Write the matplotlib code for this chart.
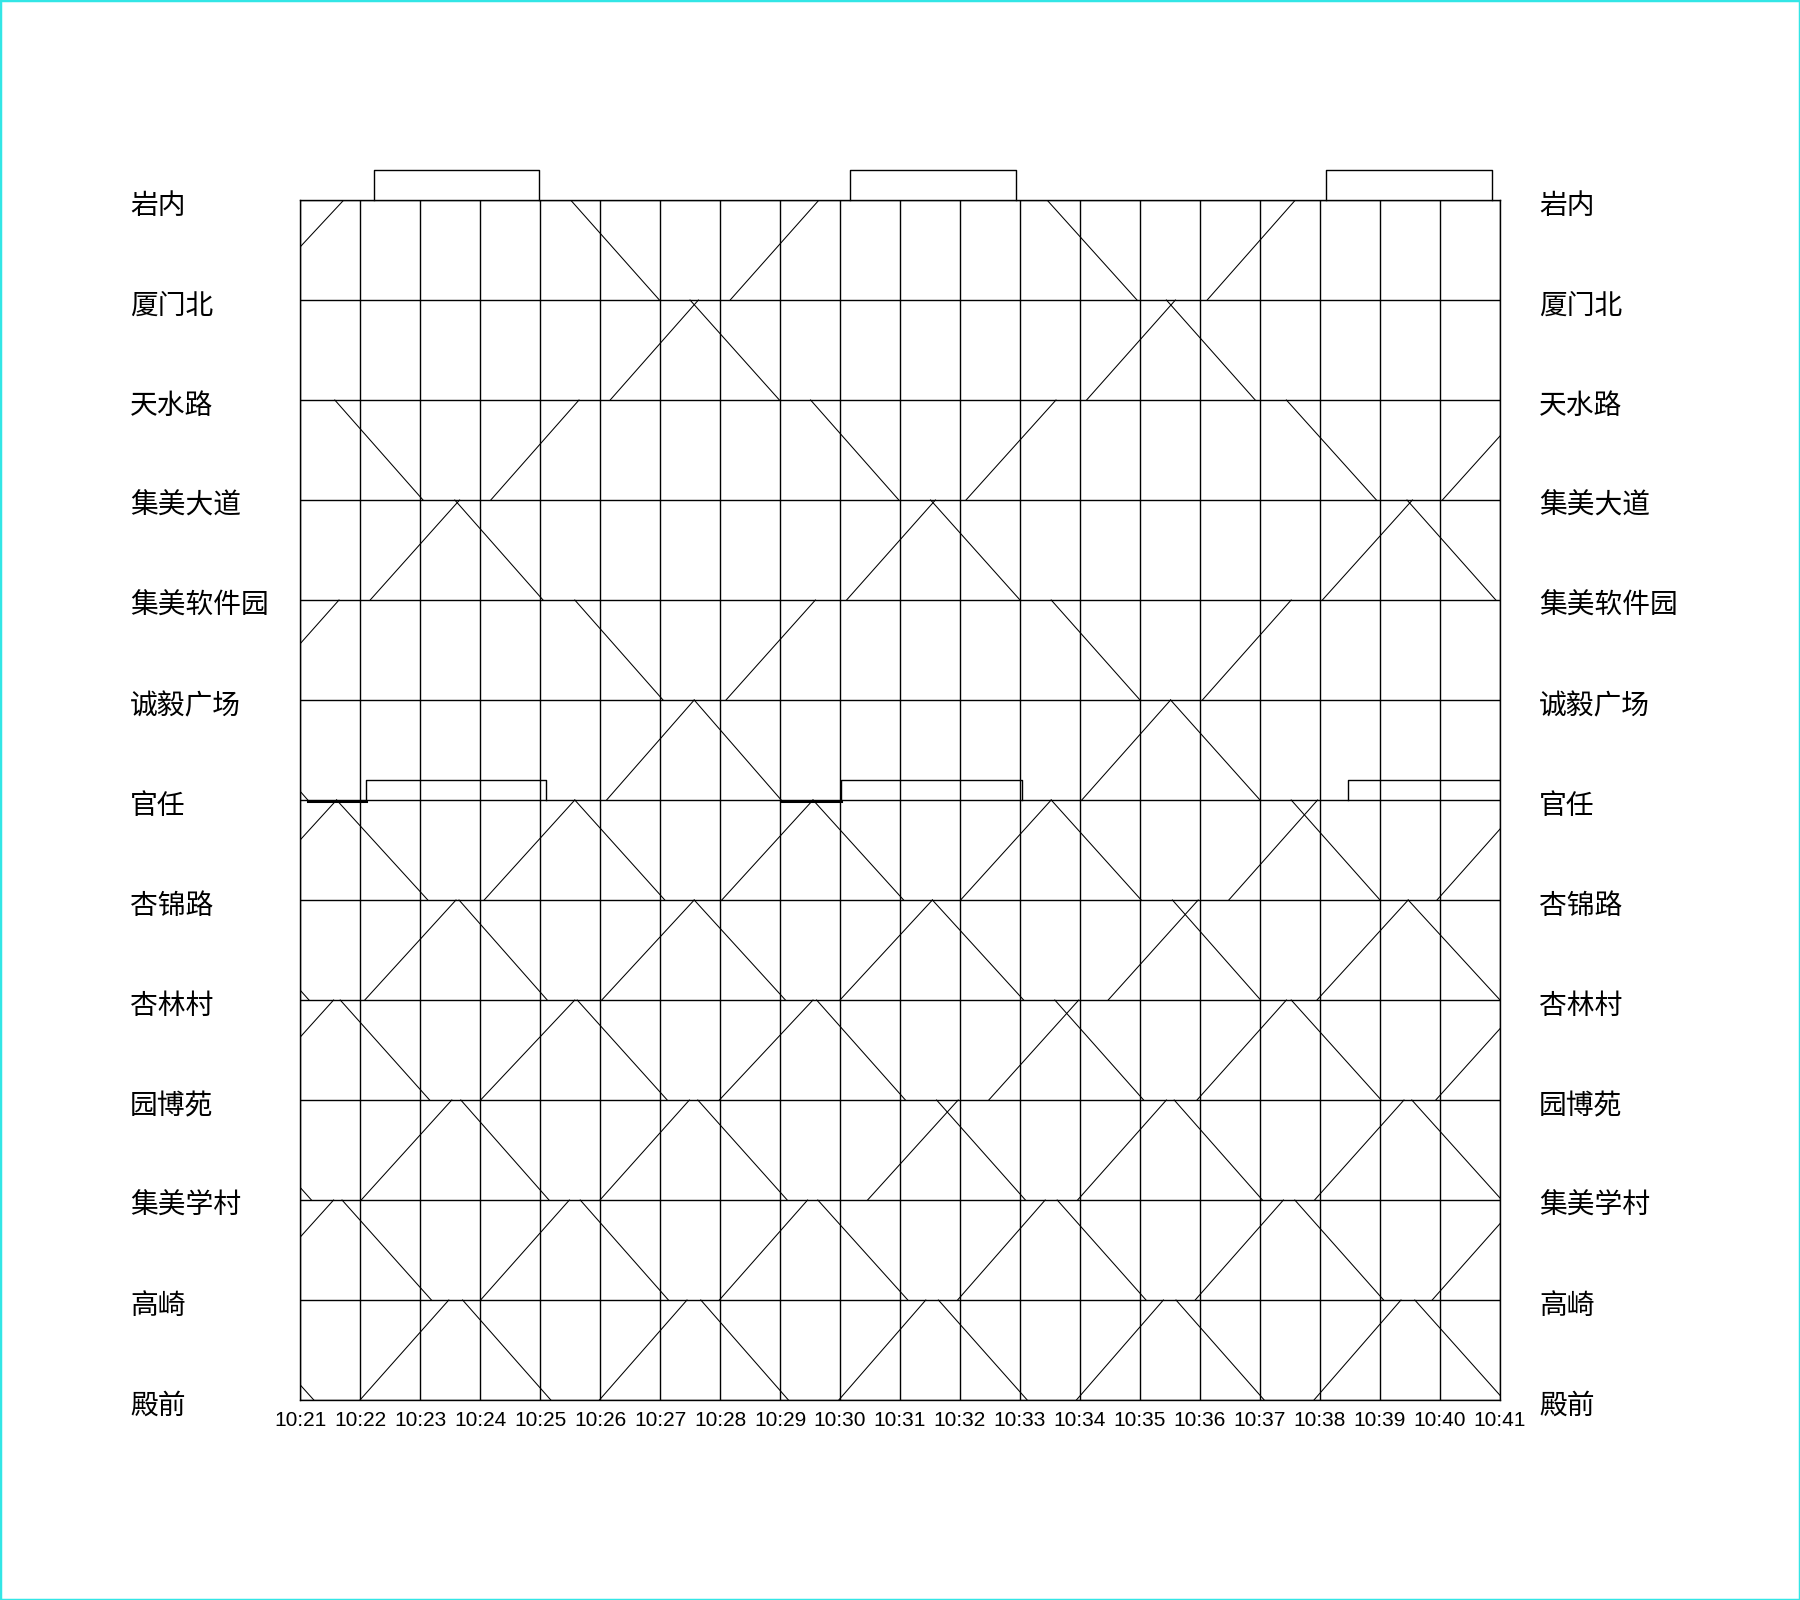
import matplotlib
matplotlib.use('Agg')
import matplotlib.pyplot as plt
from matplotlib.patches import Rectangle

# --- данные ---
stations = ['岩内', '厦门北', '天水路', '集美大道', '集美软件园', '诚毅广场', '官任',
            '杏锦路', '杏林村', '园博苑', '集美学村', '高崎', '殿前']
time_labels = ['10:21', '10:22', '10:23', '10:24', '10:25', '10:26', '10:27',
               '10:28', '10:29', '10:30', '10:31', '10:32', '10:33', '10:34',
               '10:35', '10:36', '10:37', '10:38', '10:39', '10:40', '10:41']

# вниз: (станция отправления k, отправление, прибытие на k+1), минуты от 10:21
down_runs = [
    (0, 4.51, 5.99), (0, 12.45, 13.95),
    (1, 6.50, 7.99), (1, 14.44, 15.92),
    (2, 0.58, 2.05), (2, 8.51, 9.98), (2, 16.44, 17.94),
    (3, 2.58, 4.05), (3, 10.51, 12.00), (3, 18.45, 19.93),
    (4, 4.58, 6.05), (4, 12.52, 14.00),
    (5, -1.34, 0.13), (5, 6.57, 8.02), (5, 14.51, 16.00),
    (6, 0.61, 2.13), (6, 4.58, 6.08), (6, 8.55, 10.06), (6, 12.52, 14.02), (6, 16.52, 18.00),
    (7, -1.35, 0.15), (7, 2.65, 4.12), (7, 6.57, 8.09), (7, 10.54, 12.06), (7, 14.54, 16.01),
    (7, 18.47, 20.00),
    (8, 0.67, 2.16), (8, 4.62, 6.12), (8, 8.61, 10.09), (8, 12.58, 14.06), (8, 16.52, 18.02),
    (9, -1.30, 0.19), (9, 2.68, 4.15), (9, 6.63, 8.12), (9, 10.61, 12.09), (9, 14.57, 16.04),
    (9, 18.53, 20.03),
    (10, 0.70, 2.19), (10, 4.67, 6.14), (10, 8.63, 10.13), (10, 12.62, 14.10), (10, 16.58, 18.06),
    (11, -1.27, 0.23), (11, 2.71, 4.18), (11, 6.68, 8.14), (11, 10.64, 12.12), (11, 14.60, 16.07),
    (11, 18.58, 20.07),
]

# вверх: (станция отправления k, отправление, прибытие на k-1)
up_runs = [
    (1, -0.82, 0.73), (1, 7.17, 8.65), (1, 15.12, 16.59),
    (2, 5.17, 6.64), (2, 13.11, 14.59),
    (3, 3.18, 4.65), (3, 11.10, 12.60), (3, 19.04, 20.54),
    (4, 1.17, 2.66), (4, 9.11, 10.59), (4, 17.04, 18.54),
    (5, -0.83, 0.65), (5, 7.10, 8.59), (5, 15.04, 16.52),
    (6, 5.11, 6.57), (6, 13.03, 14.51),
    (7, -0.91, 0.61), (7, 3.07, 4.58), (7, 7.03, 8.55), (7, 11.01, 12.52), (7, 15.48, 16.96),
    (7, 18.95, 20.43),
    (8, 1.08, 2.60), (8, 5.03, 6.57), (8, 9.00, 10.54), (8, 13.47, 14.97), (8, 16.95, 18.47),
    (9, -0.94, 0.56), (9, 3.01, 4.58), (9, 6.99, 8.55), (9, 11.48, 12.98), (9, 14.95, 16.44),
    (9, 18.93, 20.43),
    (10, 1.02, 2.53), (10, 5.00, 6.49), (10, 9.46, 10.97), (10, 12.96, 14.44), (10, 16.91, 18.40),
    (11, -0.94, 0.56), (11, 3.01, 4.49), (11, 6.99, 8.46), (11, 10.96, 12.42), (11, 14.92, 16.39),
    (11, 18.87, 20.35),
    (12, 1.00, 2.48), (12, 4.99, 6.45), (12, 8.98, 10.43), (12, 12.94, 14.39), (12, 16.90, 18.35),
]

# оборот на конечных (начало, конец)
yannei_turns = [(1.23, 3.99), (9.16, 11.94), (17.10, 19.86)]
guanren_turns = [(1.10, 4.10), (9.01, 12.04), (17.46, 20.50)]
guanren_dwell = [(0.13, 1.10), (8.02, 9.01)]

# --- рисунок ---
W, H = 1800, 1600
fig = plt.figure(figsize=(W / 100, H / 100), dpi=100)
ax = fig.add_axes([300 / W, 200 / H, 1200 / W, 1200 / H])
ax.set_xlim(0, len(time_labels) - 1)
ax.set_ylim(len(stations) - 1, 0)

grid_kw = dict(color='black', lw=1.0, zorder=1)
for k in range(len(stations)):
    ax.axhline(k, **grid_kw)
for m in range(len(time_labels)):
    ax.axvline(m, **grid_kw)
for sp in ax.spines.values():
    sp.set_linewidth(1.0)

run_kw = dict(color='black', lw=0.75, zorder=2)
for k, t0, t1 in down_runs:
    ax.plot([t0, t1], [k, k + 1], **run_kw)
for k, t0, t1 in up_runs:
    ax.plot([t0, t1], [k, k - 1], **run_kw)

top = stations.index('岩内')
for a, b in yannei_turns:
    ax.plot([a, a, b, b], [top, top - 0.3, top - 0.3, top], color='black', lw=1.0,
            clip_on=False, zorder=3)

gr = stations.index('官任')
for a, b in guanren_turns:
    ax.plot([a, a, b, b], [gr, gr - 0.2, gr - 0.2, gr], color='black', lw=1.0, zorder=3)
for a, b in guanren_dwell:
    ax.plot([a, b], [gr + 0.01, gr + 0.01], color='black', lw=2.2, zorder=3)

ax.set_xticks(range(len(time_labels)))
ax.set_xticklabels(time_labels, fontsize=15, family='Liberation Sans')
ax.tick_params(axis='x', length=0, pad=8)
ax.set_yticks([])

cjk = ['Noto Sans CJK SC', 'DejaVu Sans']
for k, name in enumerate(stations):
    yf = (H - (200 + 100 * k + 6)) / H
    fig.text(130 / W, yf, name, ha='left', va='center', fontsize=20, family=cjk)
    fig.text(1539 / W, yf, name, ha='left', va='center', fontsize=20, family=cjk)

fig.add_artist(Rectangle((0, 0), 1, 1, transform=fig.transFigure, fill=False,
                         edgecolor='#33e6e6', lw=2.5))

fig.savefig('out.png', dpi=100)
